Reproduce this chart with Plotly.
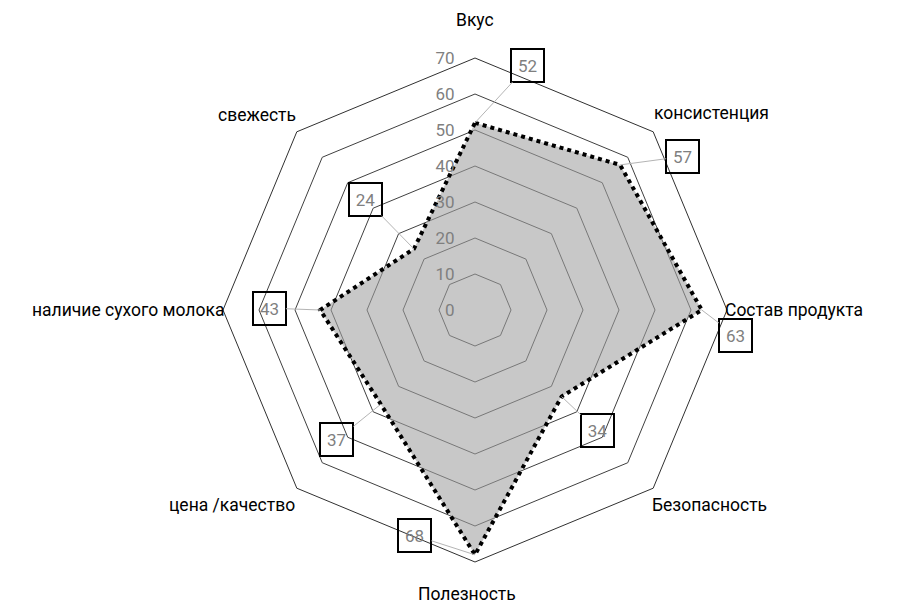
import math
import plotly.graph_objects as go

categories = ["Вкус", "консистенция", "Состав продукта", "Безопасность",
              "Полезность", "цена /качество", "наличие сухого молока", "свежесть"]
values = [52, 57, 63, 34, 68, 37, 43, 24]
radial_ticks = [0, 10, 20, 30, 40, 50, 60, 70]

W, H = 910, 606
OFF = 8                      # page body margin: figure is drawn 8px right/down
CX, CY, R = 475 - OFF, 310 - OFF, 252   # polar centre (figure px) and radius
RMAX = 70

# label box centres in the reference (screen px), remapped to this radius
ref_boxes = [(525, 52), (672, 148), (722, 337), (591, 437),
             (418, 548), (344, 447), (280, 308), (371, 193)]
box_px = [(CX + (bx - 475) * R / 239, CY + (by - 310) * R / 266) for bx, by in ref_boxes]

# category label placement (screen px, anchor)
cat_pos = [(475, 20, "center"), (652, 113, "left"), (723, 310, "left"), (650, 505, "left"),
           (467, 594, "center"), (297, 505, "right"), (226, 310, "right"), (298, 115, "right")]

fig = go.Figure()
fig.add_trace(go.Scatterpolar(
    r=values + values[:1],
    theta=categories + categories[:1],
    mode="lines",
    fill="toself",
    fillcolor="rgba(160,160,160,0.58)",
    line=dict(color="black", width=4, dash="dot"),
    hoverinfo="skip",
    showlegend=False,
))

annotations = []
n = len(categories)
for i, v in enumerate(values):
    ang = 2 * math.pi * i / n
    px = CX + R * v / RMAX * math.sin(ang)
    py = CY - R * v / RMAX * math.cos(ang)
    bx, by = box_px[i]
    annotations.append(dict(
        x=px / W, y=1 - py / H, xref="paper", yref="paper",
        text=str(v), showarrow=True, arrowhead=0, arrowwidth=1,
        arrowcolor="#b4b4b4", ax=bx - px, ay=by - py,
        font=dict(family="Roboto", size=17, color="#7f7f7f"),
        bordercolor="black", borderwidth=2, borderpad=2,
        width=27, height=27, standoff=0,
    ))

for name, (x, y, anc) in zip(categories, cat_pos):
    annotations.append(dict(
        x=(x - OFF) / W, y=1 - (y - OFF) / H, xref="paper", yref="paper",
        text=name, showarrow=False, xanchor=anc, yanchor="middle",
        font=dict(family="Roboto", size=17.5, color="black"),
    ))

fig.update_layout(
    width=W, height=H,
    margin=dict(l=0, r=0, t=0, b=0),
    paper_bgcolor="white",
    plot_bgcolor="white",
    font=dict(family="Roboto", size=15, color="black"),
    polar=dict(
        domain=dict(x=[(CX - R) / W, (CX + R) / W],
                    y=[(H - CY - R) / H, (H - CY + R) / H]),
        bgcolor="white",
        gridshape="linear",
        radialaxis=dict(
            range=[0, RMAX], tickvals=radial_ticks, ticktext=[str(t) for t in radial_ticks],
            angle=90, side="counterclockwise", tickangle=90,
            showline=False, ticks="outside", ticklen=14, tickcolor="rgba(0,0,0,0)",
            gridcolor="#404040", gridwidth=1,
            tickfont=dict(family="Roboto", size=17, color="#7f7f7f"),
        ),
        angularaxis=dict(
            rotation=90, direction="clockwise",
            showgrid=False, showline=True, linecolor="#303030", linewidth=1,
            ticks="", showticklabels=False,
        ),
    ),
    annotations=annotations,
)

fig.write_html("out.html")
